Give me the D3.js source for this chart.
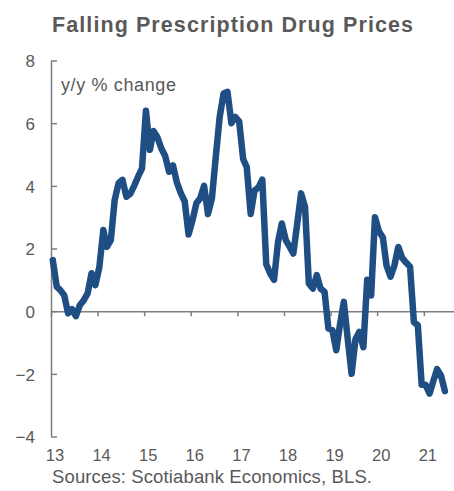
<!DOCTYPE html>
<html>
<head>
<meta charset="utf-8">
<script src="https://cdn.jsdelivr.net/npm/d3@7"></script>
<style>
  html, body { margin: 0; padding: 0; background: #ffffff; }
  svg { display: block; font-family: "Liberation Sans", Arial, sans-serif; }
</style>
</head>
<body>
<svg id="chart" width="454" height="491"></svg>
<script>
// ---- Data (monthly, y/y % change, starting Jan 2013) ----
const startYear = 2013;
const values2013 = [1.63, 0.78, 0.67, 0.50, -0.07, 0.06, -0.16, 0.19, 0.35, 0.57, 1.21, 0.83];
const values2014 = [1.41, 2.59, 2.05, 2.27, 3.55, 4.09, 4.19, 3.65, 3.75, 4.00, 4.30, 4.55];
const values2015 = [6.40, 5.15, 5.75, 5.55, 5.20, 4.95, 4.45, 4.65, 4.10, 3.77, 3.50, 2.45];
const values2016 = [2.90, 3.45, 3.60, 4.00, 3.10, 3.60, 4.90, 6.20, 6.95, 7.00, 6.00, 6.20];
const values2017 = [6.05, 4.85, 4.60, 3.10, 3.85, 3.95, 4.20, 1.50, 1.20, 1.00, 2.20, 2.80];
const values2018 = [2.27, 2.05, 1.84, 2.80, 3.76, 3.33, 0.88, 0.72, 1.15, 0.72, 0.62, -0.55];
const values2019 = [-0.60, -1.25, -0.45, 0.30, -0.87, -2.00, -0.90, -0.66, -1.15, 1.00, 0.50, 3.00];
const values2020 = [2.55, 2.35, 1.45, 1.10, 1.45, 2.05, 1.70, 1.55, 1.42, -0.35, -0.45, -2.35];
const values2021 = [-2.35, -2.63, -2.25, -1.85, -2.05, -2.55];

const yTicks = [-4, -2, 0, 2, 4, 6, 8];
const xTickLabels = ["13", "14", "15", "16", "17", "18", "19", "20", "21"];

const title = "Falling Prescription Drug Prices";
const unitLabel = "y/y % change";
const sourceText = "Sources: Scotiabank Economics, BLS.";

// ---- Build series ----
const allValues = [].concat(values2013, values2014, values2015, values2016,
  values2017, values2018, values2019, values2020, values2021);
const series = allValues.map((v, i) => ({
  date: new Date(startYear + Math.floor(i / 12), i % 12, 15),
  value: v
}));
const xTickDates = xTickLabels.map((_, i) => new Date(startYear + i, 0, 1));

// ---- Layout ----
const svg = d3.select("#chart");
const x = d3.scaleTime()
  .domain([new Date(2013, 0, 1), new Date(2022, 0, 1)])
  .range([51, 51 + 9 * 46.6]);
const y = d3.scaleLinear().domain([-4, 8]).range([436.5, 60.5]);

const axisColor = "#7f7f7f";
const textColor = "#595959";

// Title
svg.append("text")
  .attr("x", 52).attr("y", 32)
  .attr("font-size", 21.5).attr("font-weight", "bold")
  .attr("fill", textColor)
  .attr("textLength", 361).attr("lengthAdjust", "spacing")
  .text(title);

// Y axis
const yAxis = svg.append("g")
  .attr("transform", "translate(51,0)")
  .call(d3.axisLeft(y).tickValues(yTicks).tickFormat(d3.format("d"))
    .tickSizeInner(-6).tickSizeOuter(0).tickPadding(16));
yAxis.select(".domain").attr("stroke", axisColor).attr("stroke-width", 1.5);
yAxis.selectAll(".tick line").attr("stroke", axisColor).attr("stroke-width", 1.5);
yAxis.selectAll(".tick text")
  .attr("fill", textColor).attr("font-size", 17)
  .attr("font-family", "Liberation Sans, Arial, sans-serif")
  .attr("dy", "0.38em");

// X axis at zero line (ticks only)
const xAxis = svg.append("g")
  .attr("transform", `translate(0,${y(0)})`)
  .call(d3.axisBottom(x).tickValues(xTickDates).tickFormat("")
    .tickSizeInner(5).tickSizeOuter(0));
xAxis.select(".domain").attr("stroke", axisColor).attr("stroke-width", 1.5);
xAxis.selectAll(".tick line").attr("stroke", axisColor).attr("stroke-width", 1.5);

// X labels at the bottom
const xLab = svg.append("g")
  .attr("transform", "translate(3.5,446)")
  .call(d3.axisBottom(x).tickValues(xTickDates)
    .tickFormat((d, i) => xTickLabels[i]).tickSize(0).tickPadding(0));
xLab.select(".domain").remove();
xLab.selectAll(".tick text")
  .attr("fill", textColor).attr("font-size", 16.5)
  .attr("font-family", "Liberation Sans, Arial, sans-serif")
  .attr("dy", "0.93em");

// Unit label
svg.append("text")
  .attr("x", 61).attr("y", 91)
  .attr("font-size", 18).attr("fill", textColor)
  .attr("textLength", 115).attr("lengthAdjust", "spacing")
  .text(unitLabel);

// Line
const line = d3.line().x(d => x(d.date)).y(d => y(d.value));
svg.append("path")
  .datum(series)
  .attr("d", line)
  .attr("fill", "none")
  .attr("stroke", "#1f4e84")
  .attr("stroke-width", 6.5)
  .attr("stroke-linejoin", "round")
  .attr("stroke-linecap", "round");

// Source
svg.append("text")
  .attr("x", 52).attr("y", 483)
  .attr("font-size", 18.5).attr("fill", textColor)
  .attr("textLength", 320).attr("lengthAdjust", "spacing")
  .text(sourceText);
</script>
</body>
</html>
